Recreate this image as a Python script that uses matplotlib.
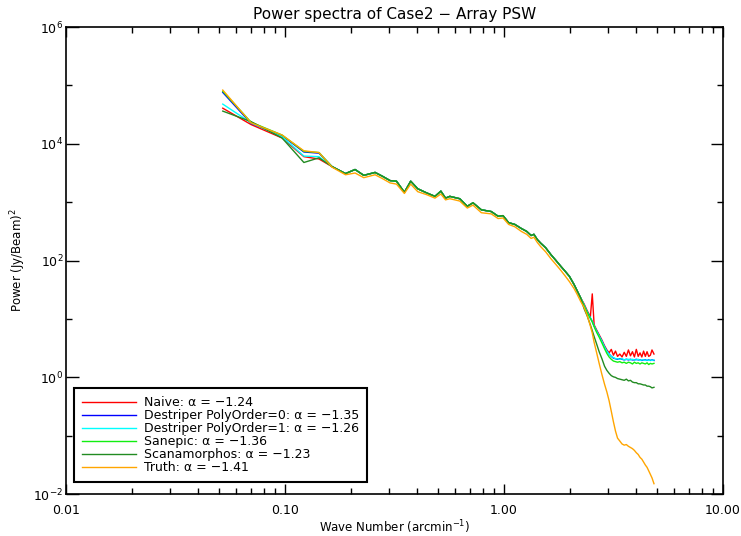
import matplotlib
matplotlib.use("Agg")
import matplotlib.pyplot as plt
from matplotlib.ticker import FixedLocator, NullFormatter, LogLocator
import numpy as np

# wave numbers (arcmin^-1)
x_head = [0.052, 0.070, 0.097, 0.122, 0.143]
x_mid = [0.164, 0.189, 0.209, 0.229, 0.258, 0.280, 0.302, 0.323, 0.351, 0.375,
         0.404, 0.443, 0.484, 0.515, 0.541, 0.566, 0.628, 0.680, 0.722, 0.788,
         0.875, 0.940, 0.990, 1.05, 1.12, 1.20, 1.27, 1.33, 1.37, 1.42,
         1.47, 1.55, 1.64, 1.72, 1.82, 1.90, 1.99, 2.09, 2.16, 2.24]
x_tail = [2.32, 2.40, 2.48, 2.53, 2.58, 2.65, 2.72, 2.80, 2.88, 2.95,
          3.02, 3.09, 3.16, 3.23, 3.30, 3.38, 3.46, 3.54, 3.62, 3.70,
          3.78, 3.86, 3.94, 4.02, 4.10, 4.18, 4.26, 4.34, 4.42, 4.50,
          4.58, 4.66, 4.74, 4.84]

# log10 power
naive_head = [4.61, 4.33, 4.10, 3.78, 3.74]
destr0_head = [4.88, 4.35, 4.14, 3.86, 3.84]
destr1_head = [4.68, 4.36, 4.12, 3.79, 3.78]
sanepic_head = [4.90, 4.37, 4.15, 3.87, 3.85]
scanam_head = [4.56, 4.38, 4.10, 3.68, 3.76]
truth_head = [4.92, 4.36, 4.15, 3.88, 3.85]

maps_mid = [3.61, 3.49, 3.56, 3.46, 3.51, 3.44, 3.37, 3.36, 3.17, 3.36,
            3.23, 3.16, 3.10, 3.19, 3.07, 3.10, 3.06, 2.93, 2.99, 2.87,
            2.84, 2.76, 2.77, 2.65, 2.62, 2.55, 2.50, 2.43, 2.45, 2.36,
            2.30, 2.22, 2.10, 2.01, 1.90, 1.82, 1.73, 1.59, 1.48, 1.36]
truth_mid = [3.60, 3.47, 3.50, 3.42, 3.47, 3.40, 3.33, 3.31, 3.15, 3.31,
             3.18, 3.13, 3.07, 3.14, 3.04, 3.06, 3.02, 2.90, 2.95, 2.82,
             2.80, 2.72, 2.73, 2.62, 2.58, 2.50, 2.45, 2.38, 2.40, 2.31,
             2.24, 2.15, 2.03, 1.94, 1.83, 1.74, 1.64, 1.52, 1.42, 1.30]

naive_tail = [1.26, 1.14, 1.04, 1.43, 0.90, 0.81, 0.73, 0.64, 0.54, 0.47,
              0.42, 0.48, 0.38, 0.45, 0.36, 0.40, 0.35, 0.43, 0.36, 0.47,
              0.37, 0.44, 0.35, 0.48, 0.36, 0.42, 0.35, 0.45, 0.36, 0.44,
              0.36, 0.38, 0.47, 0.40]
destr0_tail = [1.24, 1.12, 1.02, 0.96, 0.88, 0.79, 0.71, 0.62, 0.52, 0.45,
               0.40, 0.36, 0.33, 0.32, 0.31, 0.32, 0.31, 0.30, 0.31, 0.30,
               0.31, 0.30, 0.30, 0.31, 0.30, 0.30, 0.29, 0.30, 0.30, 0.29,
               0.30, 0.29, 0.30, 0.29]
destr1_tail = [1.24, 1.12, 1.02, 0.96, 0.88, 0.79, 0.71, 0.62, 0.52, 0.45,
               0.40, 0.36, 0.34, 0.32, 0.32, 0.31, 0.32, 0.30, 0.31, 0.31,
               0.30, 0.31, 0.30, 0.30, 0.31, 0.29, 0.30, 0.30, 0.29, 0.30,
               0.29, 0.30, 0.29, 0.30]
sanepic_tail = [1.23, 1.11, 1.01, 0.95, 0.87, 0.77, 0.69, 0.59, 0.49, 0.41,
                0.35, 0.31, 0.28, 0.27, 0.26, 0.27, 0.25, 0.26, 0.24, 0.26,
                0.25, 0.23, 0.26, 0.24, 0.25, 0.23, 0.25, 0.24, 0.23, 0.25,
                0.22, 0.24, 0.23, 0.24]
scanam_tail = [1.18, 1.05, 0.90, 0.80, 0.70, 0.57, 0.44, 0.32, 0.19, 0.12,
               0.07, 0.03, 0.01, 0.00, -0.02, -0.03, -0.04, -0.05, -0.03, -0.06,
               -0.05, -0.08, -0.09, -0.09, -0.11, -0.11, -0.12, -0.13, -0.13, -0.15,
               -0.15, -0.16, -0.18, -0.17]
truth_tail = [1.20, 1.06, 0.88, 0.76, 0.60, 0.42, 0.24, 0.05, -0.12, -0.25,
              -0.40, -0.58, -0.76, -0.92, -1.04, -1.09, -1.14, -1.16, -1.15, -1.18,
              -1.20, -1.22, -1.25, -1.29, -1.32, -1.37, -1.40, -1.45, -1.50, -1.54,
              -1.60, -1.66, -1.72, -1.82]

labels = ["Naive: \u03b1 = \u22121.24",
          "Destriper PolyOrder=0: \u03b1 = \u22121.35",
          "Destriper PolyOrder=1: \u03b1 = \u22121.26",
          "Sanepic: \u03b1 = \u22121.36",
          "Scanamorphos: \u03b1 = \u22121.23",
          "Truth: \u03b1 = \u22121.41"]
colors = ["#ff0000", "#0000ff", "#00ffff", "#11ee11", "#228b22", "#ffa500"]

series = [
    naive_head + maps_mid + naive_tail,
    destr0_head + maps_mid + destr0_tail,
    destr1_head + maps_mid + destr1_tail,
    sanepic_head + maps_mid + sanepic_tail,
    scanam_head + maps_mid + scanam_tail,
    truth_head + truth_mid + truth_tail,
]
x = np.array(x_head + x_mid + x_tail)

fig = plt.figure(figsize=(7.41, 5.36), dpi=100)
ax = fig.add_axes([0.089, 0.078, 0.8867, 0.8716])

for vals, col, lab in zip(series, colors, labels):
    ax.plot(x, 10 ** np.array(vals), color=col, lw=1.0, label=lab)

ax.set_xscale("log")
ax.set_yscale("log")
ax.set_xlim(0.01, 10)
ax.set_ylim(1e-2, 1e6)

ax.xaxis.set_major_locator(FixedLocator([0.01, 0.1, 1, 10]))
ax.set_xticklabels(["0.01", "0.10", "1.00", "10.00"])
ax.xaxis.set_minor_locator(LogLocator(base=10, subs=range(2, 10)))
ax.xaxis.set_minor_formatter(NullFormatter())
ax.yaxis.set_major_locator(FixedLocator([1e-2, 1, 1e2, 1e4, 1e6]))
ax.set_yticklabels(["10$^{-2}$", "10$^{0}$", "10$^{2}$", "10$^{4}$", "10$^{6}$"])
ax.yaxis.set_minor_locator(FixedLocator([1e-1, 1e1, 1e3, 1e5]))
ax.yaxis.set_minor_formatter(NullFormatter())

ax.tick_params(which="both", direction="in", top=True, right=True, labelsize=9, width=1)
ax.tick_params(axis="x", which="major", length=7, pad=7)
ax.tick_params(axis="x", which="minor", length=4)
ax.tick_params(axis="y", which="major", length=9, pad=2)
ax.tick_params(axis="y", which="minor", length=4.5)
for sp in ax.spines.values():
    sp.set_linewidth(1.2)

ax.set_title("Power spectra of Case2 \u2212 Array PSW", fontsize=11, pad=6)
ax.set_xlabel("Wave Number (arcmin$^{-1}$)", fontsize=8.5, labelpad=1)
ax.set_ylabel("Power (Jy/Beam)$^2$", fontsize=8.5)

leg = ax.legend(loc="lower left", bbox_to_anchor=(0.012, 0.026), fontsize=9,
                fancybox=False, edgecolor="black", framealpha=1,
                handlelength=4.3, handletextpad=0.65, labelspacing=0.0,
                borderpad=0.65, borderaxespad=0)
leg.get_frame().set_linewidth(1.5)

fig.savefig("out.png", dpi=100)
